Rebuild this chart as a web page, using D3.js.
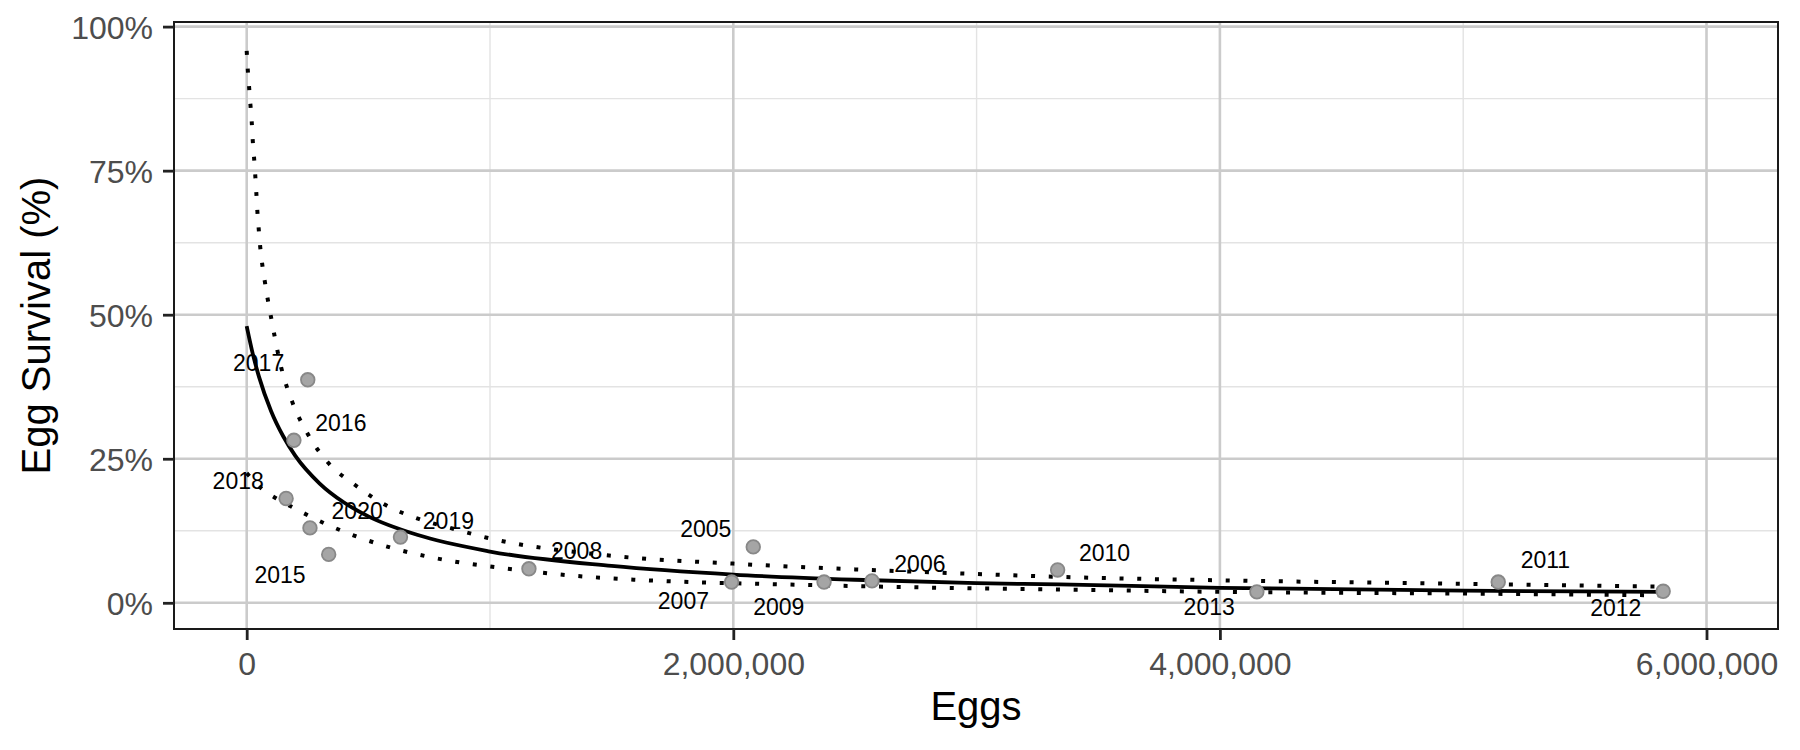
<!DOCTYPE html>
<html>
<head>
<meta charset="utf-8">
<script src="https://cdn.jsdelivr.net/npm/d3@7"></script>
<style>
  html, body { margin: 0; padding: 0; background: #ffffff; }
  svg { display: block; font-family: "Liberation Sans", Arial, sans-serif; }
</style>
</head>
<body>
<svg id="chart" width="1800" height="750"></svg>
<script>
// ---------- data ----------
const years    = ["2005","2006","2007","2008","2009","2010","2011","2012","2013","2015","2016","2017","2018","2019","2020"];
const eggs     = [2082000, 2570000, 1993000, 1160000, 2373000, 3333000, 5144000, 5822000, 4152000, 337000, 194000, 251000, 162000, 632000, 260000];
const survival = [0.097, 0.038, 0.036, 0.059, 0.036, 0.057, 0.036, 0.020, 0.019, 0.084, 0.282, 0.387, 0.181, 0.114, 0.130];

// label anchor positions (data units, as placed by the repel layout in the picture)
const labelEggs = [1887000, 2767000, 1795000, 1356000, 2187000, 3526000, 5338000, 5627000, 3956000, 137000, 387000, 49000, -35000, 829000, 454000];
const labelSurv = [0.128, 0.067, 0.004, 0.090, -0.007, 0.087, 0.074, -0.008, -0.007, 0.049, 0.312, 0.417, 0.211, 0.142, 0.159];

// fitted curve (solid)
const fitEggs = [0, 25000, 50000, 100000, 150000, 200000, 300000, 400000, 500000, 700000, 1000000, 1500000, 2000000, 2500000, 3000000, 3340000, 4000000, 5000000, 5822000];
const fitSurv = [0.480, 0.432, 0.393, 0.333, 0.289, 0.255, 0.207, 0.174, 0.150, 0.118, 0.089, 0.064, 0.049, 0.040, 0.034, 0.032, 0.026, 0.021, 0.019];

// upper band (dotted)
const upperEggs = [0, 4000, 9500, 15000, 20600, 24600, 30000, 35000, 39500, 43600, 49000, 55000, 63000, 74000, 86000, 99000, 142000, 186000, 251000, 335000, 447000, 565000, 704000, 845000, 987000, 1490000, 2000000, 2500000, 3000000, 3340000, 4000000, 5000000, 5822000];
const upperSurv = [0.958, 0.928, 0.897, 0.866, 0.835, 0.804, 0.774, 0.743, 0.712, 0.681, 0.651, 0.620, 0.590, 0.559, 0.528, 0.498, 0.408, 0.350, 0.293, 0.243, 0.204, 0.171, 0.146, 0.129, 0.113, 0.082, 0.068, 0.058, 0.050, 0.045, 0.039, 0.033, 0.028];

// lower band (dotted)
const lowerEggs = [0, 62000, 122000, 188000, 251000, 314000, 452000, 590000, 735000, 877000, 1018000, 1317000, 1600000, 1900000, 2000000, 2500000, 3000000, 3340000, 4000000, 5000000, 5822000];
const lowerSurv = [0.225, 0.198, 0.181, 0.166, 0.152, 0.139, 0.115, 0.096, 0.081, 0.070, 0.062, 0.048, 0.040, 0.035, 0.034, 0.029, 0.025, 0.023, 0.019, 0.016, 0.013];

const xTicks = [0, 2000000, 4000000, 6000000];
const xMinor = [1000000, 3000000, 5000000];
const yTicks = [0, 0.25, 0.5, 0.75, 1];
const yMinor = [0.125, 0.375, 0.625, 0.875];

// ---------- layout ----------
const panel = { left: 174, right: 1778, top: 22, bottom: 629 };
const svg = d3.select("#chart");

const x = d3.scaleLinear().domain([0, 6000000]).range([246.7, 1706.5]);
const y = d3.scaleLinear().domain([0, 1]).range([602.8, 26.6]);

svg.append("rect")
  .attr("x", panel.left).attr("y", panel.top)
  .attr("width", panel.right - panel.left).attr("height", panel.bottom - panel.top)
  .attr("fill", "#ffffff");

svg.append("clipPath").attr("id", "clip")
  .append("rect")
  .attr("x", panel.left).attr("y", panel.top)
  .attr("width", panel.right - panel.left).attr("height", panel.bottom - panel.top);

const grid = svg.append("g").attr("clip-path", "url(#clip)");

// minor grid
grid.selectAll("line.xminor").data(xMinor).join("line")
  .attr("x1", d => x(d)).attr("x2", d => x(d))
  .attr("y1", panel.top).attr("y2", panel.bottom)
  .attr("stroke", "#e3e3e3").attr("stroke-width", 1.4);
grid.selectAll("line.yminor").data(yMinor).join("line")
  .attr("y1", d => y(d)).attr("y2", d => y(d))
  .attr("x1", panel.left).attr("x2", panel.right)
  .attr("stroke", "#e3e3e3").attr("stroke-width", 1.4);
// major grid
grid.selectAll("line.xmajor").data(xTicks).join("line")
  .attr("x1", d => x(d)).attr("x2", d => x(d))
  .attr("y1", panel.top).attr("y2", panel.bottom)
  .attr("stroke", "#cbcbcb").attr("stroke-width", 2.6);
grid.selectAll("line.ymajor").data(yTicks).join("line")
  .attr("y1", d => y(d)).attr("y2", d => y(d))
  .attr("x1", panel.left).attr("x2", panel.right)
  .attr("stroke", "#cbcbcb").attr("stroke-width", 2.6);

const plot = svg.append("g").attr("clip-path", "url(#clip)");

const line = d3.line().x(d => x(d[0])).y(d => y(d[1])).curve(d3.curveMonotoneX);

plot.append("path")
  .datum(d3.zip(upperEggs, upperSurv))
  .attr("d", line)
  .attr("fill", "none").attr("stroke", "#000")
  .attr("stroke-width", 4).attr("stroke-dasharray", "4 13.7").attr("stroke-linecap", "butt");

plot.append("path")
  .datum(d3.zip(lowerEggs, lowerSurv))
  .attr("d", line)
  .attr("fill", "none").attr("stroke", "#000")
  .attr("stroke-width", 4).attr("stroke-dasharray", "4 13.7").attr("stroke-linecap", "butt");

plot.append("path")
  .datum(d3.zip(fitEggs, fitSurv))
  .attr("d", line)
  .attr("fill", "none").attr("stroke", "#000")
  .attr("stroke-width", 3.8);

// points
plot.selectAll("circle.pt").data(d3.range(years.length)).join("circle")
  .attr("cx", i => x(eggs[i])).attr("cy", i => y(survival[i]))
  .attr("r", 6.8)
  .attr("fill", "#a5a5a5").attr("stroke", "#888888").attr("stroke-width", 1.8);

// labels
svg.append("g").selectAll("text").data(d3.range(years.length)).join("text")
  .attr("x", i => x(labelEggs[i])).attr("y", i => y(labelSurv[i]))
  .attr("dy", "0.358em")
  .attr("text-anchor", "middle")
  .attr("font-size", 23).attr("fill", "#000")
  .text(i => years[i]);

// panel border
svg.append("rect")
  .attr("x", panel.left).attr("y", panel.top)
  .attr("width", panel.right - panel.left).attr("height", panel.bottom - panel.top)
  .attr("fill", "none").attr("stroke", "#1a1a1a").attr("stroke-width", 2);

// y axis
const yAxis = svg.append("g").attr("transform", `translate(${panel.left},0)`)
  .call(d3.axisLeft(y).tickValues(yTicks).tickSize(11).tickPadding(10).tickFormat(d3.format(".0%")));
yAxis.select(".domain").remove();
yAxis.selectAll(".tick line").attr("stroke", "#222").attr("stroke-width", 2.8);
yAxis.selectAll(".tick text")
  .attr("font-size", 32).attr("fill", "#4d4d4d")
  .attr("font-family", "Liberation Sans, Arial, sans-serif")
  .attr("dy", "0.358em");

// x axis
const xAxis = svg.append("g").attr("transform", `translate(0,${panel.bottom})`)
  .call(d3.axisBottom(x).tickValues(xTicks).tickSize(11).tickPadding(12.5).tickFormat(d3.format(",")));
xAxis.select(".domain").remove();
xAxis.selectAll(".tick line").attr("stroke", "#222").attr("stroke-width", 2.8);
xAxis.selectAll(".tick text")
  .attr("font-size", 32).attr("fill", "#4d4d4d")
  .attr("font-family", "Liberation Sans, Arial, sans-serif")
  .attr("dy", "0.71em");

// axis titles
svg.append("text")
  .attr("x", (panel.left + panel.right) / 2).attr("y", 720)
  .attr("text-anchor", "middle").attr("font-size", 40).attr("fill", "#000")
  .text("Eggs");

svg.append("text")
  .attr("transform", `translate(50,${(panel.top + panel.bottom) / 2}) rotate(-90)`)
  .attr("text-anchor", "middle").attr("font-size", 40).attr("fill", "#000")
  .text("Egg Survival (%)");
</script>
</body>
</html>
